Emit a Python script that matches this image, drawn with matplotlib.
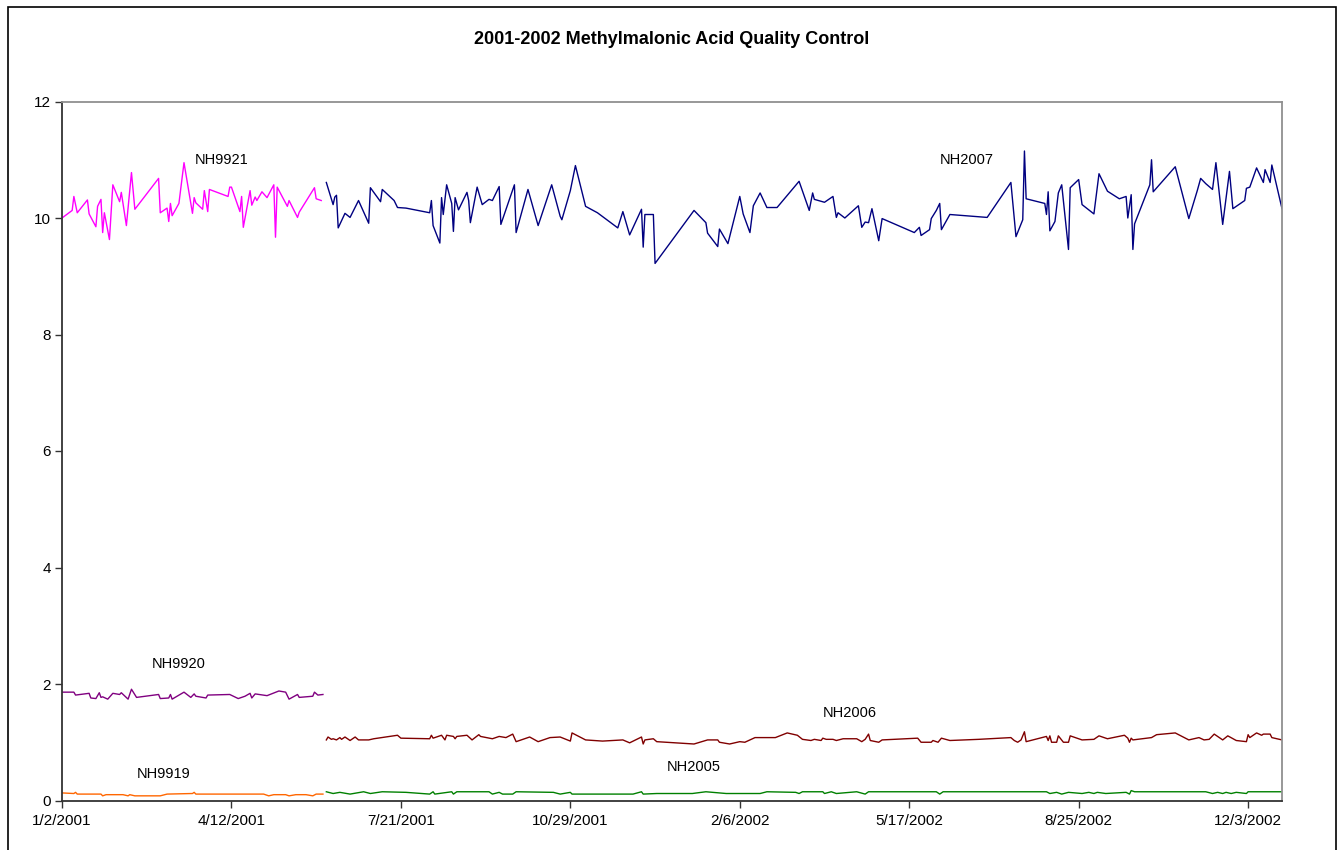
import pandas as pd
import matplotlib
matplotlib.use('Agg')
import matplotlib.pyplot as plt
from matplotlib.patches import Rectangle

plt.rcParams['font.family'] = ['Liberation Sans', 'DejaVu Sans']

# days counted from 1/2/2001
start = pd.Timestamp('2001-01-02')

d9921 = [0, 6, 7, 9, 15, 16, 20, 21, 23, 24, 25, 28, 30, 34, 35, 38, 41, 43, 57, 58,
         62, 63, 64, 65, 69, 72, 77, 78, 79, 83, 84, 86, 87, 98, 99, 100, 105, 106, 107, 111,
         112, 114, 115, 118, 121, 125, 126, 127, 133, 134, 139, 140, 149, 150, 153]
v9921 = [10.00, 10.13, 10.37, 10.09, 10.31, 10.07, 9.85, 10.20, 10.32, 9.75,
         10.09, 9.63, 10.57, 10.28, 10.44, 9.87, 10.78, 10.15, 10.68, 10.09,
         10.17, 9.94, 10.25, 10.04, 10.25, 10.95, 10.08, 10.35, 10.26, 10.15,
         10.47, 10.11, 10.49, 10.37, 10.53, 10.53, 10.11, 10.37, 9.84, 10.47,
         10.22, 10.36, 10.30, 10.45, 10.35, 10.57, 9.67, 10.53, 10.20, 10.30,
         10.01, 10.10, 10.52, 10.33, 10.30]

d9920 = [0, 7, 8, 16, 17, 20, 22, 23, 24, 27, 30, 34, 35, 39, 41, 44, 57, 58, 63, 64,
         65, 72, 76, 78, 79, 85, 86, 99, 104, 108, 111, 112, 114, 121, 128, 132, 134, 139, 140, 148,
         149, 151, 154]
v9920 = [1.86, 1.86, 1.81, 1.84, 1.76, 1.75, 1.85, 1.77, 1.78, 1.74,
         1.84, 1.82, 1.85, 1.74, 1.91, 1.77, 1.82, 1.75, 1.76, 1.82,
         1.74, 1.86, 1.77, 1.83, 1.79, 1.76, 1.81, 1.82, 1.75, 1.79,
         1.84, 1.76, 1.83, 1.80, 1.88, 1.86, 1.74, 1.82, 1.77, 1.79,
         1.86, 1.81, 1.82]

d9919 = [0, 7, 8, 9, 23, 24, 26, 36, 39, 40, 43, 58, 62, 77, 78, 79, 119, 122, 125, 132,
         134, 138, 144, 148, 150, 154]
v9919 = [0.13, 0.12, 0.14, 0.11, 0.11, 0.08, 0.10, 0.10, 0.08, 0.10,
         0.08, 0.08, 0.11, 0.12, 0.14, 0.11, 0.11, 0.08, 0.10, 0.10,
         0.08, 0.10, 0.10, 0.08, 0.11, 0.11]

d2007 = [156, 160, 161, 162, 163, 167, 170, 175, 181, 182,
         188, 189, 196, 198, 203, 217, 218, 219, 223, 224,
         225, 227, 230, 231, 232, 234, 239, 240, 241, 245,
         248, 252, 254, 258, 259, 267, 268, 275, 281, 289,
         294, 295, 300, 303, 309, 316, 328, 331, 335, 342,
         343, 344, 349, 350, 373, 380, 381, 387, 388, 393,
         400, 402, 406, 408, 412, 416, 422, 435, 441, 443,
         444, 450, 455, 457, 458, 462, 470, 472, 474, 476,
         478, 482, 484, 503, 506, 507, 512, 513, 516, 518,
         519, 524, 546, 560, 563, 567, 568, 569, 580, 581,
         582, 583, 586, 588, 590, 594, 595, 600, 602, 609,
         612, 617, 624, 628, 629, 631, 632, 633, 642, 643,
         644, 657, 665, 670, 672, 675, 679, 681, 685, 689,
         691, 698, 699, 701, 705, 709, 710, 713, 714, 720]
v2007 = [10.61, 10.23, 10.36, 10.39, 9.83, 10.08, 10.01, 10.30, 9.91, 10.52,
         10.28, 10.49, 10.30, 10.18, 10.17, 10.09, 10.30, 9.87, 9.57, 10.35,
         10.06, 10.57, 10.25, 9.77, 10.35, 10.14, 10.44, 10.30, 9.92, 10.53,
         10.23, 10.32, 10.30, 10.54, 9.89, 10.57, 9.75, 10.49, 9.87, 10.57,
         10.03, 9.97, 10.47, 10.90, 10.20, 10.09, 9.83, 10.11, 9.71, 10.15,
         9.50, 10.06, 10.06, 9.22, 10.13, 9.92, 9.74, 9.51, 9.81, 9.56,
         10.37, 10.07, 9.75, 10.21, 10.43, 10.18, 10.18, 10.63, 10.13, 10.43,
         10.32, 10.27, 10.37, 10.01, 10.09, 10.00, 10.21, 9.84, 9.93, 9.92,
         10.16, 9.61, 9.99, 9.75, 9.84, 9.70, 9.80, 9.99, 10.13, 10.25,
         9.80, 10.06, 10.01, 10.61, 9.68, 9.97, 11.15, 10.33, 10.25, 10.06,
         10.45, 9.78, 9.94, 10.43, 10.57, 9.46, 10.52, 10.66, 10.23, 10.07,
         10.76, 10.46, 10.33, 10.37, 10.00, 10.40, 9.46, 9.90, 10.57, 11.00,
         10.45, 10.88, 9.99, 10.47, 10.68, 10.59, 10.49, 10.95, 9.89, 10.80,
         10.16, 10.30, 10.51, 10.53, 10.86, 10.61, 10.83, 10.61, 10.91, 10.16]

d2006 = [156, 157, 159, 160, 162, 164, 165, 167, 170, 173,
         175, 181, 184, 191, 198, 200, 217, 218, 219, 224,
         226, 227, 231, 232, 233, 239, 242, 246, 247, 254,
         258, 262, 266, 268, 276, 281, 288, 294, 300, 301,
         309, 319, 331, 335, 342, 343, 344, 349, 351,
         373, 381, 387, 388, 394, 400, 403, 409, 416, 421,
         428, 434, 437, 442, 444, 448, 449, 451, 455, 457,
         461, 469, 472, 474, 476, 477, 482, 484, 505, 507,
         513, 514, 517, 519, 524, 541,
         560, 562, 564, 566, 568, 569, 581, 582, 583, 584,
         587, 588, 591, 594, 595, 602, 609, 612, 617, 627,
         629, 630, 631, 632, 643, 646, 657, 665, 671, 674,
         677, 680, 685, 688, 693, 699, 700, 701, 705, 708,
         709, 713, 714, 720]
v2006 = [1.04, 1.09, 1.05, 1.06, 1.04, 1.08, 1.05, 1.09, 1.03, 1.09,
         1.04, 1.04, 1.06, 1.09, 1.12, 1.07, 1.06, 1.12, 1.07, 1.12,
         1.04, 1.12, 1.10, 1.06, 1.10, 1.12, 1.04, 1.13, 1.10, 1.06,
         1.10, 1.08, 1.14, 1.01, 1.09, 1.01, 1.08, 1.09, 1.02, 1.16,
         1.04, 1.02, 1.04, 0.99, 1.09, 0.97, 1.04, 1.06, 1.01,
         0.97, 1.04, 1.04, 1.00, 0.97, 1.01, 1.00, 1.08, 1.08, 1.08,
         1.16, 1.12, 1.05, 1.03, 1.05, 1.03, 1.07, 1.05, 1.05, 1.03,
         1.06, 1.06, 1.01, 1.05, 1.14, 1.03, 1.00, 1.04, 1.07, 1.00,
         1.00, 1.03, 1.00, 1.07, 1.03, 1.05,
         1.08, 1.03, 1.00, 1.04, 1.18, 1.01, 1.10, 1.03, 1.11, 1.00,
         1.00, 1.11, 1.00, 1.00, 1.11, 1.04, 1.05, 1.11, 1.06, 1.12,
         1.07, 1.00, 1.07, 1.04, 1.08, 1.13, 1.16, 1.04, 1.08, 1.04,
         1.05, 1.14, 1.04, 1.11, 1.03, 1.01, 1.13, 1.08, 1.16, 1.12,
         1.14, 1.14, 1.08, 1.04]

d2005 = [156, 160, 164, 170, 178, 182, 189, 203, 217, 219,
         220, 230, 231, 233, 252, 254, 258, 260, 266, 268,
         290, 294, 300, 301, 309, 337, 342, 343, 351,
         353, 372, 380, 392, 412, 416, 433, 435, 437, 449,
         450, 454, 457, 469, 474, 476, 516, 518, 520, 541,
         581, 583, 587, 590, 594, 602, 606, 609, 611, 616,
         628, 630, 631, 633, 675, 679, 682, 685, 687, 690,
         693, 699, 700, 720]
v2005 = [0.15, 0.12, 0.14, 0.11, 0.15, 0.12, 0.15, 0.14, 0.11, 0.15,
         0.11, 0.15, 0.11, 0.15, 0.15, 0.11, 0.14, 0.11, 0.11, 0.15,
         0.14, 0.11, 0.14, 0.11, 0.11, 0.11, 0.15, 0.11, 0.12,
         0.12, 0.12, 0.15, 0.12, 0.12, 0.15, 0.14, 0.12, 0.15, 0.15,
         0.12, 0.15, 0.12, 0.15, 0.11, 0.15, 0.15, 0.11, 0.15, 0.15,
         0.15, 0.12, 0.14, 0.11, 0.14, 0.12, 0.14, 0.12, 0.14, 0.12,
         0.14, 0.11, 0.17, 0.15, 0.15, 0.12, 0.14, 0.12, 0.14, 0.12,
         0.14, 0.12, 0.15, 0.15]

series = [
    ('NH9921', d9921, v9921, '#FF00FF'),
    ('NH9920', d9920, v9920, '#800080'),
    ('NH9919', d9919, v9919, '#FF6600'),
    ('NH2007', d2007, v2007, '#000080'),
    ('NH2006', d2006, v2006, '#800000'),
    ('NH2005', d2005, v2005, '#008000'),
]

# label anchor: (day, value)
label_pos = {
    'NH9921': (94, 11.0),
    'NH9920': (69, 2.35),
    'NH9919': (60, 0.45),
    'NH2007': (534, 11.0),
    'NH2006': (465, 1.5),
    'NH2005': (373, 0.58),
}

tick_labels = ['1/2/2001', '4/12/2001', '7/21/2001', '10/29/2001',
               '2/6/2002', '5/17/2002', '8/25/2002', '12/3/2002']
x_end = '2002-12-23'

W, H = 1341, 850
fig = plt.figure(figsize=(W / 100, H / 100), dpi=100)
ax = fig.add_axes([62 / W, 49.5 / H, 1220 / W, 699 / H])

for name, d, v, c in series:
    x = start + pd.to_timedelta(d, unit='D')
    ax.plot(x, v, color=c, lw=1.0)
    ld, lv = label_pos[name]
    ax.text(start + pd.Timedelta(days=ld), lv, name, ha='center', va='center',
            fontsize=10.5, color='black')

ticks = pd.to_datetime(tick_labels, format='%m/%d/%Y')
ax.set_xticks(ticks)
ax.set_xticklabels(tick_labels)
ax.set_xlim(start, pd.Timestamp(x_end))
ax.set_ylim(0, 12)
ax.set_yticks(range(0, 13, 2))

ax.tick_params(axis='both', direction='out', length=5, width=1, color='#333333',
               labelsize=11)
ax.tick_params(axis='x', pad=5)
ax.tick_params(axis='y', pad=3)
for side in ['left', 'bottom']:
    ax.spines[side].set_color('#333333')
    ax.spines[side].set_linewidth(1.3)
for side in ['top', 'right']:
    ax.spines[side].set_color('#909090')
    ax.spines[side].set_linewidth(1.3)

fig.text(671.5 / W, 1 - 40 / H, '2001-2002 Methylmalonic Acid Quality Control',
         ha='center', va='center', fontsize=13, fontweight='bold')

fig.patches.append(Rectangle((8 / W, -0.1), 1328 / W, (843 / H) + 0.1,
                             transform=fig.transFigure, fill=False,
                             edgecolor='black', lw=1.2))

fig.savefig('out.png', dpi=100)
